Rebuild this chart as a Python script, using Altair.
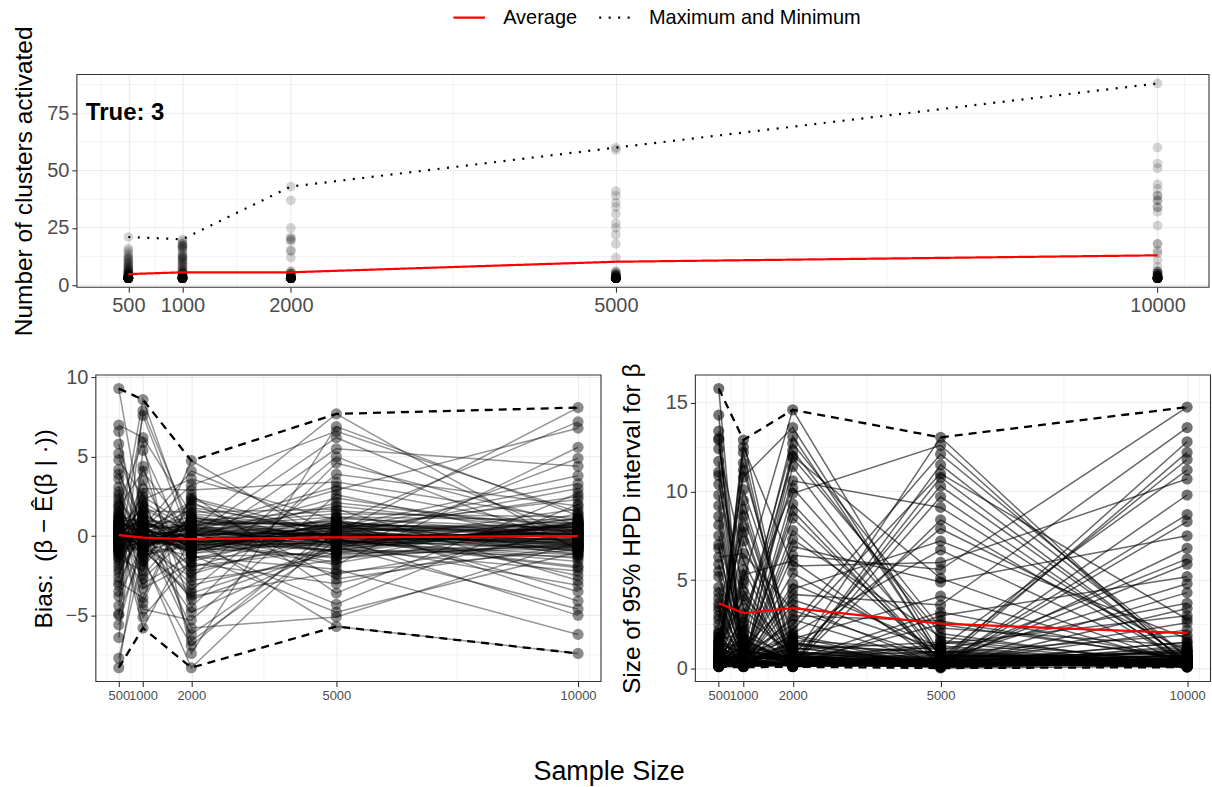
import altair as alt
import pandas as pd

FONT = "Liberation Sans"

# ---------------- shared x values ----------------
SAMPLE_SIZES = [500, 1000, 2000, 5000, 10000]
X_MINOR = [250, 750, 1500, 3500, 7500, 10250]
X_DOMAIN = [25, 10475]

# ---------------- top panel: number of clusters activated ----------------
CL500_VAL = [3, 4, 5, 6, 7, 8, 9, 10, 11, 12, 13, 14, 15, 16, 21]
CL500_CNT = [45, 10, 6, 4, 3, 3, 2, 2, 2, 2, 1, 1, 1, 1, 1]
CL1000_VAL = [3, 4, 5, 6, 7, 8, 9, 10, 11, 12, 13, 14, 15, 16, 17, 18, 19, 20]
CL1000_CNT = [40, 8, 5, 3, 2, 2, 2, 2, 2, 3, 2, 1, 1, 2, 3, 2, 1, 1]
CL2000_VAL = [3, 4, 5, 6, 12, 15, 19, 20, 21, 25, 37, 43]
CL2000_CNT = [45, 8, 4, 2, 1, 2, 1, 2, 1, 1, 1, 1]
CL5000_VAL = [3, 4, 5, 6, 12, 18, 22, 25, 27, 31, 34, 36, 39, 41, 59, 60]
CL5000_CNT = [45, 8, 4, 2, 1, 1, 1, 1, 1, 1, 1, 1, 1, 1, 1, 1]
CL10000_VAL = [3, 4, 5, 6, 8, 11, 14, 15, 18, 26, 32, 34, 37, 39, 42, 44, 51, 53, 60, 88]
CL10000_CNT = [40, 8, 5, 3, 1, 1, 1, 1, 2, 1, 1, 2, 2, 2, 1, 1, 1, 1, 1, 1]

TOP_AVG = [4.8, 5.6, 5.6, 10.2, 13.0]
TOP_MAX = [21, 20, 43, 60, 88]
TOP_Y_DOMAIN = [-0.9, 91.9]
TOP_Y_TICKS = [0, 25, 50, 75]
TOP_Y_MINOR = [12.5, 37.5, 62.5, 87.5]
TRUE_TEXT = ["True: 3"]
TRUE_X = [108]
TRUE_Y = [75]

# ---------------- bottom-left panel: bias (one value per replicate) ----------------
BIAS_500 = [0.2, -0.4, 0.8, -1.2, 0.1, 1.5, -0.3, 2.4, -2.1, 0.6,
            -0.8, 0.0, 3.1, -3.5, 0.4, -0.1, 1.1, -1.7, 0.3, 9.3,
            -8.3, 0.7, -0.6, 2.8, -2.6, 0.05, 5.8, -5.0, 1.9, -0.9,
            0.5, -0.2, 4.2, -4.4, 1.3, -1.4, 0.9, -0.5, 6.6, -6.4,
            0.25, -0.15, 2.2, -2.9, 1.6, 0.35, -1.0, 7.0, -7.7, 0.45,
            -0.7, 3.6, -3.1, 1.2, -1.9, 0.15, 5.2, -5.6, 0.65, -0.35,
            0.9, -1.1, 2.6, -0.05, 0.55, -2.3, 1.8, -0.75, 3.9, -3.8,
            0.12, -0.45, 1.4, -1.5, 4.8, -4.9, 0.85, -0.25, 2.0, -0.95]
BIAS_1000 = [-0.3, 0.5, -1.0, 0.9, 1.2, -0.2, 2.0, -0.6, 0.1, -1.8,
             0.4, 8.6, -0.9, 1.6, -2.7, 0.2, -0.4, 3.0, -5.8, 0.7,
             1.0, -1.3, 0.0, -3.3, 2.3, 0.6, -0.1, 4.4, -0.8, 1.4,
             -4.6, 0.3, -0.5, 7.9, 0.8, -2.2, 1.1, 0.15, -1.5, 5.4,
             -0.7, 2.7, 0.35, -3.9, 0.05, 1.7, -0.25, 6.2, -1.2, 0.45,
             3.5, -0.35, 0.9, -2.5, 1.3, -5.1, 0.25, -0.15, 2.1, -1.0,
             0.55, 7.6, -0.65, 1.9, -1.6, 0.1, 4.1, -3.0, 0.75, -0.45,
             -0.05, 1.5, -4.2, 0.65, 2.5, -0.85, 0.3, -1.9, 5.9, -0.55]
BIAS_2000 = [0.3, -0.7, 1.1, -0.2, -1.4, 0.6, -2.8, 0.9, -0.4, 2.3,
             -1.1, 0.0, -3.6, 1.5, 0.2, -6.2, -0.6, 2.9, -0.1, -2.0,
             0.8, -8.3, 0.4, -1.7, 3.6, -0.9, 0.1, -4.5, 1.2, -0.3,
             -5.3, 2.0, -0.5, 0.5, -2.4, 4.75, -0.8, -3.1, 1.8, -1.3,
             0.7, -6.6, -0.15, 2.6, -1.0, 0.25, -4.0, 1.4, -0.45, 3.2,
             -2.2, 0.05, -5.8, 1.0, -0.25, -1.6, 2.2, -3.4, 0.45, -0.65,
             4.1, -0.35, -2.6, 0.15, -6.9, 1.7, -0.05, -1.2, 0.35, -4.8,
             0.95, -0.75, 2.4, -1.9, 0.55, -3.8, -0.95, 1.3, -7.4, 0.2]
BIAS_5000 = [0.1, -0.4, 0.6, -0.9, 0.3, 1.2, -1.5, 0.0, 2.1, -0.2,
             0.5, 6.2, -0.7, 1.7, -2.4, 0.2, -0.1, 3.4, -5.7, 0.8,
             -1.2, 0.4, 7.7, -3.0, 1.0, -0.5, 0.15, 4.6, -0.3, -1.8,
             2.6, -0.05, -4.3, 0.7, 0.25, -0.6, 5.5, -1.1, 0.35, -2.1,
             1.4, -0.25, 0.05, -3.6, 0.9, 2.9, -0.8, 0.45, -1.4, 6.6,
             -0.15, 1.9, -5.1, 0.55, -0.35, 0.65, -2.7, 3.9, -0.45, 1.1,
             0.2, -0.95, 5.0, -1.7, 0.75, -0.55, 2.4, -4.8, 0.3, -0.65,
             1.6, -1.3, 0.12, -0.85, 3.1, -2.3, 0.85, -0.2, 6.9, -1.0]
BIAS_10000 = [-0.2, 0.3, -0.6, 0.8, -1.1, 0.0, 1.4, -0.4, 0.5, -1.9,
              2.3, -0.1, 0.6, -2.8, 0.2, 8.1, -0.7, 1.0, -7.4, 0.1,
              -0.3, 3.3, -0.9, 0.4, -4.1, 1.7, -0.05, 0.7, -1.4, 5.6,
              -0.5, 0.15, 2.0, -3.5, 0.9, -0.25, 4.4, -0.8, 0.35, -6.2,
              1.2, -1.6, 0.05, 2.7, -0.15, 6.8, -2.2, 0.55, -0.45, 1.5,
              -5.0, 0.25, -0.35, 3.8, -1.2, 0.65, -0.6, 1.9, -3.1, 0.45,
              -0.95, 4.9, -0.75, 0.85, -2.5, 1.1, 0.12, -1.0, 2.5, -4.6,
              0.75, -0.55, 3.0, -1.3, 0.3, -0.85, 7.2, -2.0, 1.3, -0.65]
# replicates whose bias stays close to zero at every sample size
BIAS_CORE_500 = [0.3, -0.5, 0.1, -0.2, 0.7, -0.9, 0.4, -0.1, 1.0, -0.6,
                 0.2, -0.3, 0.6, -1.1, 0.0, 0.5, -0.4, 0.9, -0.7, 0.15,
                 -0.25, 1.2, -0.05, 0.35, -0.8, 0.45, -0.15, 0.8, -1.3, 0.25,
                 -0.35, 0.55, -0.45, 0.05, 1.1, -0.65, 0.65, -0.95, 0.75, -0.55]
BIAS_CORE_1000 = [-0.2, 0.4, -0.7, 0.1, 0.6, -0.3, 0.9, -0.5, 0.2, -1.0,
                  0.05, 0.7, -0.15, -0.6, 0.3, -0.9, 0.5, 0.0, -0.4, 1.1,
                  0.35, -0.25, 0.8, -0.45, -0.05, 0.45, -0.8, 0.15, 0.65, -1.2,
                  0.25, -0.35, 1.0, -0.55, 0.55, -0.1, -0.75, 0.85, -0.65, 0.1]
BIAS_CORE_2000 = [0.1, -0.6, 0.3, -0.9, 0.5, -0.2, -0.4, 0.8, -1.1, 0.0,
                  -0.3, 0.6, -0.7, 0.2, -0.05, 1.0, -0.5, 0.4, -0.15, -0.8,
                  0.7, -0.35, 0.15, -1.3, 0.45, -0.1, 0.9, -0.55, 0.25, -0.65,
                  0.05, -0.45, 0.55, -0.25, 1.2, -0.95, 0.35, -0.75, 0.65, -0.85]
BIAS_CORE_5000 = [-0.1, 0.3, -0.4, 0.6, 0.0, -0.7, 0.2, 0.8, -0.3, 0.5,
                  -0.9, 0.1, 0.4, -0.2, 1.0, -0.5, 0.7, -0.05, -0.6, 0.25,
                  0.9, -0.35, 0.15, -1.1, 0.45, -0.15, 0.65, -0.45, 0.05, 1.2,
                  -0.25, 0.35, -0.8, 0.55, -0.55, 0.85, -0.65, 0.75, -1.0, -0.3]
BIAS_CORE_10000 = [0.2, -0.3, 0.5, -0.1, 0.0, 0.7, -0.6, 0.3, -0.8, 0.1,
                   0.9, -0.4, 0.4, -0.2, -1.0, 0.6, 0.05, -0.5, 1.1, -0.7,
                   -0.05, 0.35, -0.25, 0.8, -0.9, 0.15, 0.55, -0.15, -0.45, 1.0,
                   0.25, -0.65, 0.45, -0.35, 0.65, -1.2, 0.75, -0.55, 0.85, -0.75]
BIAS_AVG = [0.06, -0.1, -0.2, -0.08, 0.0]
BIAS_MAX = [9.3, 8.6, 4.75, 7.7, 8.1]
BIAS_MIN = [-8.3, -5.8, -8.3, -5.7, -7.4]
BIAS_Y_DOMAIN = [-9.17, 10.15]
BIAS_Y_TICKS = [-5, 0, 5, 10]
BIAS_Y_MINOR = [-7.5, -2.5, 2.5, 7.5]

# ---------------- bottom-right panel: size of 95% HPD interval ----------------
HPD_500 = [0.3, 0.5, 12.4, 0.2, 2.8, 0.8, 7.5, 0.15, 1.2, 4.6,
           0.4, 15.8, 0.6, 9.8, 0.25, 1.8, 0.12, 5.9, 0.9, 3.3,
           0.35, 11.1, 0.7, 0.2, 6.8, 1.4, 0.45, 13.4, 0.3, 2.2,
           8.6, 0.55, 0.18, 4.0, 1.0, 10.4, 0.25, 0.65, 3.0, 0.4,
           0.8, 14.3, 0.3, 1.6, 5.2, 0.2, 0.5, 7.0, 0.35, 12.9,
           0.6, 2.5, 0.15, 9.2, 0.75, 0.3, 3.7, 1.1, 0.45, 6.3,
           0.22, 11.7, 0.9, 0.4, 2.0, 0.28, 8.1, 0.55, 1.3, 4.3,
           0.35, 0.7, 10.9, 0.2, 1.5, 13.0, 0.5, 3.5, 0.25, 5.5]
HPD_1000 = [0.4, 0.2, 6.1, 0.6, 10.8, 0.3, 1.5, 0.15, 3.9, 0.8,
            12.9, 0.25, 2.4, 0.5, 0.12, 8.0, 0.35, 1.1, 5.0, 0.2,
            0.7, 4.4, 0.3, 11.6, 0.45, 0.9, 2.9, 0.18, 7.2, 0.55,
            0.25, 1.8, 9.5, 0.4, 0.15, 3.4, 0.65, 12.2, 0.3, 1.3,
            5.6, 0.2, 0.5, 2.1, 0.35, 10.1, 0.8, 0.25, 4.8, 0.6,
            0.3, 7.7, 1.0, 0.15, 12.5, 0.45, 2.6, 0.7, 0.2, 6.5,
            1.6, 0.35, 9.0, 0.5, 0.28, 3.1, 0.9, 11.2, 0.4, 0.22,
            4.1, 0.6, 0.18, 8.6, 1.2, 0.3, 5.3, 0.75, 2.3, 0.45]
HPD_2000 = [0.25, 9.3, 0.5, 0.2, 13.6, 1.1, 0.4, 4.8, 0.15, 2.5,
            0.6, 0.3, 11.9, 0.8, 6.4, 0.2, 3.6, 0.45, 14.6, 0.35,
            1.7, 0.12, 7.8, 0.55, 0.25, 12.3, 0.9, 2.0, 0.3, 5.4,
            0.4, 10.6, 0.2, 1.4, 3.0, 0.65, 8.5, 0.15, 11.4, 0.5,
            0.3, 4.2, 0.75, 13.1, 0.2, 1.9, 0.45, 6.9, 0.25, 2.8,
            9.9, 0.35, 0.6, 0.18, 5.8, 1.2, 12.7, 0.4, 0.22, 3.3,
            0.5, 7.3, 0.28, 2.2, 0.7, 10.2, 0.15, 1.5, 4.5, 0.3,
            0.85, 0.2, 12.0, 0.45, 3.9, 0.25, 6.1, 0.6, 0.35, 8.9]
HPD_5000 = [0.2, 0.35, 3.2, 0.15, 0.6, 7.9, 0.25, 1.2, 0.4, 12.1,
            0.3, 0.5, 2.0, 0.1, 5.6, 0.45, 0.2, 10.3, 0.8, 0.25,
            4.1, 0.3, 0.55, 13.05, 0.15, 1.6, 0.4, 6.7, 0.2, 0.7,
            0.35, 9.1, 0.25, 0.9, 2.7, 0.12, 0.5, 11.5, 0.3, 1.4,
            0.45, 3.6, 0.2, 0.65, 8.4, 0.3, 0.05, 4.9, 0.4, 0.25,
            12.6, 0.55, 1.0, 0.2, 6.0, 0.35, 2.3, 0.15, 9.7, 0.6,
            0.3, 1.8, 0.45, 11.0, 0.25, 0.75, 3.0, 0.2, 7.2, 0.4,
            0.5, 0.15, 5.1, 0.35, 1.1, 10.8, 0.28, 0.6, 2.5, 0.2]
HPD_10000 = [0.3, 0.2, 0.5, 6.8, 0.15, 1.0, 0.4, 11.2, 0.25, 0.7,
             2.6, 0.35, 0.12, 0.6, 14.75, 0.2, 4.3, 0.45, 0.3, 8.7,
             0.25, 1.5, 0.55, 0.15, 3.4, 0.4, 12.8, 0.2, 0.8, 0.3,
             5.9, 0.35, 0.2, 1.9, 0.5, 9.8, 0.28, 0.65, 0.1, 3.0,
             0.4, 13.6, 0.25, 0.9, 0.3, 2.2, 0.15, 7.5, 0.45, 0.6,
             0.2, 4.8, 0.35, 0.5, 10.7, 0.25, 1.3, 0.4, 0.18, 6.2,
             12.2, 0.3, 0.75, 2.8, 0.2, 0.45, 5.2, 0.35, 1.7, 0.25,
             0.55, 8.3, 0.2, 0.3, 3.7, 0.4, 0.15, 11.8, 0.6, 1.1]
# replicates with narrow intervals at every sample size
HPD_CORE_500 = [0.3, 0.8, 0.2, 1.4, 0.5, 0.15, 1.0, 0.4, 1.8, 0.25,
                0.6, 0.35, 1.2, 0.2, 0.9, 0.45, 0.12, 1.6, 0.3, 0.7,
                0.55, 0.2, 1.1, 0.4, 0.25, 1.5, 0.65, 0.18, 0.85, 0.3,
                2.0, 0.5, 0.22, 0.75, 0.35, 1.3, 0.28, 0.95, 0.45, 0.15]
HPD_CORE_1000 = [0.5, 0.2, 1.1, 0.3, 0.7, 0.15, 1.6, 0.4, 0.25, 0.9,
                 0.35, 1.3, 0.2, 0.6, 0.45, 1.9, 0.12, 0.8, 0.3, 0.55,
                 1.0, 0.25, 0.4, 1.4, 0.18, 0.65, 0.3, 0.85, 0.5, 0.22,
                 1.2, 0.35, 0.75, 0.2, 1.7, 0.45, 0.28, 0.95, 0.15, 0.6]
HPD_CORE_2000 = [0.2, 0.6, 0.35, 1.2, 0.15, 0.8, 0.45, 0.25, 1.5, 0.3,
                 0.9, 0.18, 0.5, 1.1, 0.3, 0.7, 0.22, 1.8, 0.4, 0.12,
                 0.65, 0.28, 1.0, 0.5, 0.2, 1.4, 0.35, 0.75, 0.15, 0.55,
                 0.25, 1.3, 0.45, 0.85, 0.3, 0.2, 1.6, 0.6, 0.4, 0.95]
HPD_CORE_5000 = [0.15, 0.4, 0.8, 0.2, 0.3, 1.2, 0.25, 0.6, 0.1, 0.5,
                 0.9, 0.18, 0.35, 1.5, 0.22, 0.45, 0.7, 0.12, 0.3, 1.0,
                 0.2, 0.55, 0.28, 0.85, 0.4, 0.15, 1.3, 0.35, 0.65, 0.2,
                 0.5, 0.95, 0.25, 0.1, 0.75, 0.3, 1.1, 0.45, 0.18, 0.6]
HPD_CORE_10000 = [0.25, 0.15, 0.6, 0.3, 1.0, 0.2, 0.45, 0.12, 0.8, 0.35,
                  0.18, 1.3, 0.4, 0.22, 0.55, 0.1, 0.9, 0.3, 0.65, 0.2,
                  1.1, 0.28, 0.5, 0.15, 0.75, 0.35, 0.2, 1.5, 0.4, 0.25,
                  0.85, 0.12, 0.6, 0.3, 0.45, 1.2, 0.18, 0.7, 0.22, 0.95]
HPD_AVG = [3.7, 3.15, 3.43, 2.55, 2.02]
HPD_MAX = [15.8, 12.9, 14.6, 13.05, 14.75]
HPD_MIN = [0.12, 0.1, 0.12, 0.05, 0.1]
HPD_Y_DOMAIN = [-0.71, 16.56]
HPD_Y_TICKS = [0, 5, 10, 15]
HPD_Y_MINOR = [2.5, 7.5, 12.5]

LEGEND_LABELS = ["Average", "Maximum and Minimum"]

# ---------------- data frames ----------------
def expand(n, values, counts):
    rows = []
    for v, c in zip(values, counts):
        rows.extend({"n": n, "value": v} for _ in range(c))
    return rows

top_points = pd.DataFrame(
    expand(500, CL500_VAL, CL500_CNT) + expand(1000, CL1000_VAL, CL1000_CNT)
    + expand(2000, CL2000_VAL, CL2000_CNT) + expand(5000, CL5000_VAL, CL5000_CNT)
    + expand(10000, CL10000_VAL, CL10000_CNT)
)

top_stats = pd.DataFrame(
    [{"n": n, "value": v, "stat": LEGEND_LABELS[0], "line": "avg"} for n, v in zip(SAMPLE_SIZES, TOP_AVG)]
    + [{"n": n, "value": v, "stat": LEGEND_LABELS[1], "line": "max"} for n, v in zip(SAMPLE_SIZES, TOP_MAX)]
)

def stat_frame(avg, mx, mn):
    rows = []
    for n, a, hi, lo in zip(SAMPLE_SIZES, avg, mx, mn):
        rows.append({"n": n, "value": a, "line": "avg"})
        rows.append({"n": n, "value": hi, "line": "max"})
        rows.append({"n": n, "value": lo, "line": "min"})
    return pd.DataFrame(rows)

def replicate_frame(cols):
    rows = []
    for n, col in zip(SAMPLE_SIZES, cols):
        for i, v in enumerate(col):
            rows.append({"rep": i, "n": n, "value": v})
    return pd.DataFrame(rows)

bias_df = replicate_frame([BIAS_500 + BIAS_CORE_500, BIAS_1000 + BIAS_CORE_1000, BIAS_2000 + BIAS_CORE_2000,
                           BIAS_5000 + BIAS_CORE_5000, BIAS_10000 + BIAS_CORE_10000])
bias_stats = stat_frame(BIAS_AVG, BIAS_MAX, BIAS_MIN)
hpd_df = replicate_frame([HPD_500 + HPD_CORE_500, HPD_1000 + HPD_CORE_1000, HPD_2000 + HPD_CORE_2000,
                          HPD_5000 + HPD_CORE_5000, HPD_10000 + HPD_CORE_10000])
hpd_stats = stat_frame(HPD_AVG, HPD_MAX, HPD_MIN)

# ---------------- encodings ----------------
GRID = "#EBEBEB"
BORDER = "#333333"

def x_enc(label_size, min_extent, rng=None):
    scale = alt.Scale(domain=X_DOMAIN, nice=False, zero=False)
    if rng is not None:
        scale = alt.Scale(domain=X_DOMAIN, nice=False, zero=False, range=rng)
    return alt.X("n:Q", scale=scale,
                 axis=alt.Axis(values=SAMPLE_SIZES, format="d", title=None, labelFontSize=label_size,
                               labelFlush=False, labelOverlap=False, grid=True, labelPadding=3,
                               minExtent=min_extent, maxExtent=min_extent))

def y_enc(domain, ticks, title, title_x, height, min_extent, offset=0, label_size=20, title_size=24.5):
    return alt.Y("value:Q", scale=alt.Scale(domain=domain, nice=False, zero=False),
                 axis=alt.Axis(values=ticks, title=title, titleX=title_x, titleY=height / 2,
                               titleBaseline="middle", titleAlign="center", titleAngle=270,
                               titleFontSize=title_size, labelFontSize=label_size, offset=offset,
                               minExtent=min_extent, maxExtent=min_extent, grid=False, labelPadding=3))

def grid_layers(minor_x, major_y, minor_y, X, Y):
    vx = alt.Chart(pd.DataFrame({"n": minor_x})).mark_rule(color=GRID, strokeWidth=0.6).encode(x=X)
    hy_minor = alt.Chart(pd.DataFrame({"value": minor_y})).mark_rule(color=GRID, strokeWidth=0.6).encode(
        y=Y, x=alt.datum(X_DOMAIN[0]), x2=alt.datum(X_DOMAIN[1]))
    hy_major = alt.Chart(pd.DataFrame({"value": major_y})).mark_rule(color=GRID, strokeWidth=1.1).encode(
        y=Y, x=alt.datum(X_DOMAIN[0]), x2=alt.datum(X_DOMAIN[1]))
    return [vx, hy_minor, hy_major]

def border_layer(y_domain):
    return alt.Chart(pd.DataFrame({"k": [0]})).mark_rect(
        fillOpacity=0, stroke=BORDER, strokeWidth=1.1).encode(
        x=alt.datum(X_DOMAIN[0]), x2=alt.datum(X_DOMAIN[1]),
        y=alt.datum(y_domain[0]), y2=alt.datum(y_domain[1]))

# ---------------- top chart ----------------
TOP_W, TOP_H = 1134, 213
Xt = x_enc(20, 32)
Yt = y_enc(TOP_Y_DOMAIN, TOP_Y_TICKS, "Number of clusters activated", -52, TOP_H, 70)

legend = alt.Legend(title=None, orient="none", legendX=376, legendY=-74, direction="horizontal",
                    labelFontSize=20, labelColor="black", labelFont=FONT, labelLimit=400,
                    symbolType="stroke", symbolSize=1000, symbolStrokeWidth=2.2,
                    labelOffset=17, columnPadding=16, padding=0)

top_pts = alt.Chart(top_points).mark_circle(size=95, color="black", opacity=0.17).encode(x=Xt, y=Yt)
top_lines = alt.Chart(top_stats).mark_line(strokeWidth=2.2).encode(
    x=Xt, y=Yt,
    color=alt.Color("stat:N", scale=alt.Scale(domain=LEGEND_LABELS, range=["#FF0000", "black"]), legend=legend),
    strokeDash=alt.StrokeDash("stat:N", scale=alt.Scale(domain=LEGEND_LABELS, range=[[1, 0], [2, 7.5]]), legend=legend),
    detail="line:N",
)
true_txt = alt.Chart(pd.DataFrame({"n": TRUE_X, "value": TRUE_Y, "t": TRUE_TEXT})).mark_text(
    align="left", baseline="middle", fontSize=24, fontWeight="bold", color="black", font=FONT
).encode(x=Xt, y=Yt, text="t:N")

top = alt.layer(*grid_layers(X_MINOR, TOP_Y_TICKS, TOP_Y_MINOR, Xt, Yt), top_pts, top_lines, true_txt,
                border_layer(TOP_Y_DOMAIN)).properties(width=TOP_W, height=TOP_H)

# ---------------- bottom panels ----------------
BOT_H = 307
# the lower-left panel starts 19 px right of the top panel
BL_SHIFT = 19

def bottom_panel(df, stats, domain, ticks, minor, title, title_x, width, min_extent, line_op, pt_op, shift=0):
    X = x_enc(13, 22, rng=[shift, width + shift] if shift else None)
    Y = y_enc(domain, ticks, title, title_x, BOT_H, min_extent, offset=-shift)
    reps = alt.Chart(df).mark_line(color="black", opacity=line_op, strokeWidth=1.5).encode(x=X, y=Y, detail="rep:N")
    pts = alt.Chart(df).mark_circle(size=125, color="black", opacity=pt_op).encode(x=X, y=Y)
    ext = alt.Chart(stats[stats["line"] != "avg"]).mark_line(
        color="black", strokeDash=[8, 6], strokeWidth=2.3).encode(x=X, y=Y, detail="line:N")
    avg = alt.Chart(stats[stats["line"] == "avg"]).mark_line(color="#FF0000", strokeWidth=2.2).encode(x=X, y=Y)
    return alt.layer(*grid_layers(X_MINOR, ticks, minor, X, Y), reps, pts, ext, avg,
                     border_layer(domain)).properties(width=width + shift, height=BOT_H)

bias = bottom_panel(bias_df, bias_stats, BIAS_Y_DOMAIN, BIAS_Y_TICKS, BIAS_Y_MINOR,
                    "Bias:\u2002(β − Ê(β | ·))", -51, 506, 89, 0.42, 0.45, shift=BL_SHIFT)
hpd = bottom_panel(hpd_df, hpd_stats, HPD_Y_DOMAIN, HPD_Y_TICKS, HPD_Y_MINOR,
                   "Size of 95% HPD interval for β", -62.5, 516, 80, 0.6, 0.55)

bottom_row = alt.hconcat(bias, hpd, spacing=13.5)

chart = alt.concat(
    top, bottom_row, columns=1, spacing=26,
    title=alt.TitleParams("Sample Size", orient="bottom", anchor="middle", fontSize=27,
                          fontWeight="normal", color="black", font=FONT, offset=56),
).properties(
    padding={"left": 7, "top": 0, "right": 0, "bottom": 0}
).configure(font=FONT).configure_view(
    stroke=None
).configure_axis(
    gridColor=GRID, gridWidth=1.1, tickColor=BORDER, tickSize=5, tickWidth=1.1,
    labelColor="#4D4D4D", domain=False, titleColor="black", titleFontWeight="normal",
    labelFont=FONT, titleFont=FONT,
)

chart.save("out.html", embed_options={"renderer": "svg", "actions": False})
